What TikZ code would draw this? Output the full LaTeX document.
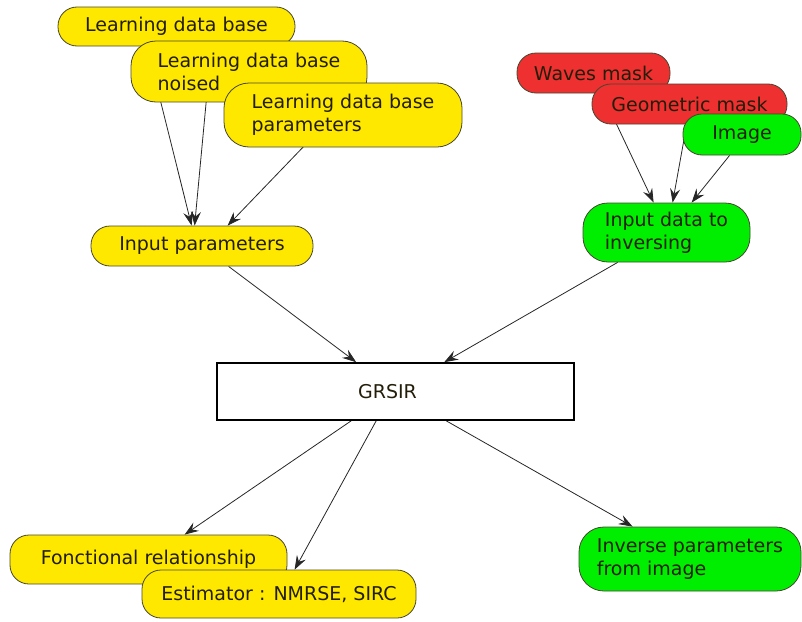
\documentclass[tikz,border=0pt]{standalone}
\usepackage{fontspec}
\setmainfont{DejaVu Sans}
\usetikzlibrary{arrows.meta,calc,backgrounds}
\definecolor{boxyellow}{RGB}{255,232,0}
\definecolor{boxred}{RGB}{238,48,48}
\definecolor{boxgreen}{RGB}{0,238,0}
\definecolor{boxline}{RGB}{70,70,50}
\definecolor{textdark}{RGB}{35,30,10}
\begin{document}
\begin{tikzpicture}[x=1pt,y=-1pt,
  box/.style={draw=boxline, line width=0.8pt, rounded corners=19pt,
    inner sep=0pt, align=left, text=textdark,
    font=\fontsize{19}{23}\selectfont},
  tall/.style={rounded corners=25pt},
  ybox/.style={box, fill=boxyellow},
  rbox/.style={box, fill=boxred},
  gbox/.style={box, fill=boxgreen},
  sz/.style 2 args={minimum width=#1pt, minimum height=#2pt},
  arr/.style={draw=black!85, line width=0.8pt,
    -{Stealth[length=14pt,width=10pt,inset=5pt]}}]
\useasboundingbox (0,0) rectangle (802,621);

% learning inputs
\node[ybox, sz={237}{39}] (ldb) at (176.5,26.5) {Learning data base};
\node[ybox, tall, sz={236}{61}] (noised) at (249,71.5) {Learning data base\\noised};
\node[ybox, tall, sz={238}{64}] (params) at (343,115) {Learning data base\\parameters};
\node[ybox, sz={222}{40}] (inp) at (202,246) {Input parameters};

% image inputs
\node[rbox, sz={153}{40}] (waves) at (593.5,73) {Waves mask};
\node[rbox, sz={195}{40}] (geom) at (689.5,104) {Geometric mask};
\node[gbox, sz={118}{41}] (image) at (742,134.5) {Image};
\node[gbox, tall, sz={167}{59}] (indata) at (666.5,232.5) {Input data to\\inversing};

% method
\node[draw=black, line width=1.6pt, fill=white, minimum width=357pt,
  minimum height=57pt, inner sep=0pt, font=\fontsize{19}{23}\selectfont,
  text=textdark] (grsir) at (395.5,391.5) {GRSIR\hspace*{16pt}};

% outputs
\node[ybox, sz={277}{49}] (fonc) at (148.5,559.5) {Fonctional relationship};
\node[ybox, sz={274}{48}] (estim) at (279,594) {Estimator : NMRSE, SIRC};
\node[gbox, tall, sz={222}{64}] (inverse) at (690,559) {Inverse parameters\\from image};

\begin{scope}[on background layer]
  \draw[arr] ($(noised.south west)+(29,-5)$) -- ($(inp.north west)+(101,0)$);
  \draw[arr] ($(noised.south west)+(76,-5)$) -- ($(inp.north west)+(104,0)$);
  \draw[arr] ($(params.south west)+(84,-5)$) -- ($(inp.north west)+(137,0)$);
  \draw[arr] ($(inp.south west)+(138,0)$) -- ($(grsir.north west)+(140,0)$);
  \draw[arr] ($(indata.south west)+(35,0)$) -- ($(grsir.north west)+(228,0)$);
  \draw[arr] ($(waves.south west)+(83,-5)$) -- ($(indata.north west)+(71,0)$);
  \draw[arr] ($(geom.south west)+(96,-5)$) -- ($(indata.north west)+(90,0)$);
  \draw[arr] ($(image.south west)+(47,0)$) -- ($(indata.north west)+(109,0)$);
  \draw[arr] ($(grsir.south west)+(135,0)$) -- ($(fonc.north west)+(175,0)$);
  \draw[arr] ($(grsir.south west)+(160,0)$) -- ($(estim.north west)+(153,0)$);
  \draw[arr] ($(grsir.south west)+(230,0)$) -- ($(inverse.north west)+(54,0)$);
\end{scope}
\end{tikzpicture}
\end{document}
